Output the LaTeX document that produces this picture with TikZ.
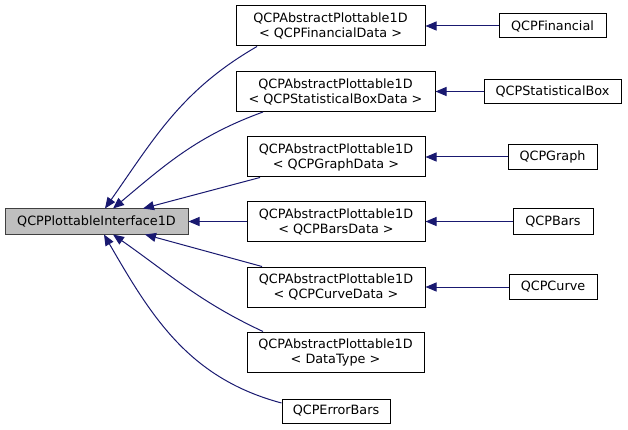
\documentclass[tikz,border=0pt]{standalone}
\usepackage{fontspec}
\setmainfont{DejaVu Sans}
\usetikzlibrary{arrows.meta}
\definecolor{edgeblue}{HTML}{191970}
\definecolor{basegray}{HTML}{BFBFBF}
\definecolor{baseedge}{HTML}{404040}

\begin{document}
\begin{tikzpicture}[x=1pt,y=1pt,
    cls/.style={draw=black, fill=white, line width=1pt, inner sep=0pt,
      align=center, font=\fontsize{12.8}{15}\selectfont},
    inh/.style={draw=edgeblue, line width=1pt,
      -{Triangle[length=11pt,width=9pt,fill=edgeblue]}}]
    \useasboundingbox (0,0) rectangle (628,-430);
    % base class
    \node[cls, fill=basegray, draw=baseedge, minimum width=183, minimum height=25] (base) at (96.5,-221.5) {QCPPlottableInterface1D};
    % templates
    \node[cls, minimum width=189, minimum height=40] (a1) at (330.5,-26) {QCPAbstractPlottable1D\\< QCPFinancialData >};
    \node[cls, minimum width=199, minimum height=40] (a2) at (335.5,-91.5) {QCPAbstractPlottable1D\\< QCPStatisticalBoxData >};
    \node[cls, minimum width=178, minimum height=40] (a3) at (336,-157) {QCPAbstractPlottable1D\\< QCPGraphData >};
    \node[cls, minimum width=178, minimum height=40] (a4) at (336,-221.5) {QCPAbstractPlottable1D\\< QCPBarsData >};
    \node[cls, minimum width=178, minimum height=40] (a5) at (336,-287) {QCPAbstractPlottable1D\\< QCPCurveData >};
    \node[cls, minimum width=177, minimum height=40] (a6) at (335.5,-352) {QCPAbstractPlottable1D\\< DataType >};
    \node[cls, minimum width=108, minimum height=24] (err) at (336,-411) {QCPErrorBars};
    % concrete classes
    \node[cls, minimum width=107, minimum height=24] (fin) at (552.5,-26) {QCPFinancial};
    \node[cls, minimum width=137, minimum height=24] (stat) at (552.5,-91.5) {QCPStatisticalBox};
    \node[cls, minimum width=89, minimum height=25] (graph) at (552.5,-157) {QCPGraph};
    \node[cls, minimum width=80, minimum height=25] (bars) at (553,-221.5) {QCPBars};
    \node[cls, minimum width=88, minimum height=25] (curve) at (553,-287) {QCPCurve};

    \draw[inh] ([xshift=-73.5]a1.south) to[out=210,in=55] ([xshift=8.5]base.north);
    \draw[inh] ([xshift=-72.5]a2.south) to[out=200,in=40] ([xshift=16.5]base.north);
    \draw[inh] ([xshift=-76]a3.south) -- ([xshift=46.5]base.north);
    \draw[inh] (a4) -- (base);
    \draw[inh] ([xshift=-74]a5.north) -- ([xshift=48.5]base.south);
    \draw[inh] ([xshift=-72.5]a6.north) to[out=155,in=-35] ([xshift=16.5]base.south);
    \draw[inh] ([yshift=8]err.west) to[out=165,in=-60] ([xshift=7.5]base.south);

    \draw[inh] (fin) -- (a1);
    \draw[inh] (stat) -- (a2);
    \draw[inh] (graph) -- (a3);
    \draw[inh] (bars) -- (a4);
    \draw[inh] (curve) -- (a5);
  \end{tikzpicture}
\end{document}
